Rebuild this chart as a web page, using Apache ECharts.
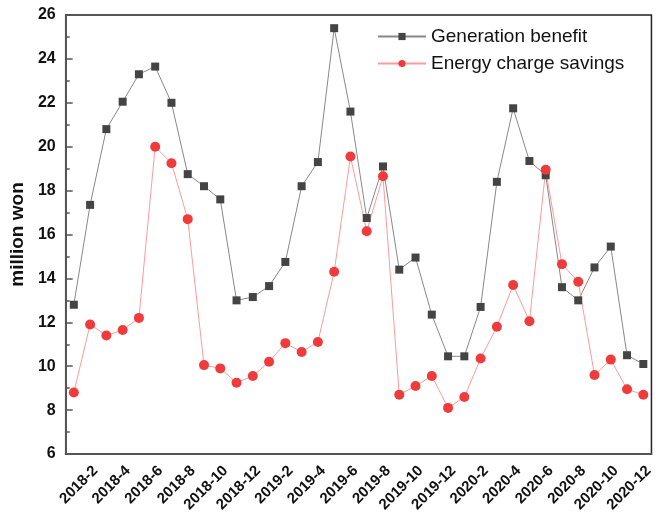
<!DOCTYPE html>
<html>
<head>
<meta charset="utf-8">
<script src="https://cdn.jsdelivr.net/npm/echarts@6/dist/echarts.min.js"></script>
<style>html,body{margin:0;padding:0;background:#fff}#c{width:656px;height:521px}</style>
</head>
<body>
<div id="c"></div>
<script>
const months = [];
for (let y = 2018; y <= 2020; y++) for (let m = 1; m <= 12; m++) months.push(y + '-' + m);
const generationBenefit = [12.8, 17.35, 20.8, 22.05, 23.3, 23.65, 22.0, 18.75, 18.2, 17.6, 13.0, 13.15,
  13.65, 14.75, 18.2, 19.3, 25.4, 21.6, 16.75, 19.1, 14.4, 14.95, 12.35, 10.45,
  10.45, 12.7, 18.4, 21.75, 19.35, 18.7, 13.6, 13.0, 14.5, 15.45, 10.5, 10.1];
const energyChargeSavings = [8.8, 11.9, 11.4, 11.65, 12.2, 20.0, 19.25, 16.7, 10.05, 9.9, 9.25, 9.55,
  10.2, 11.05, 10.65, 11.1, 14.3, 19.55, 16.15, 18.65, 8.7, 9.1, 9.55, 8.1,
  8.6, 10.35, 11.8, 13.7, 12.05, 18.95, 14.65, 13.85, 9.6, 10.3, 8.95, 8.7];
const seriesNames = ['Generation benefit', 'Energy charge savings'];

const chart = echarts.init(document.getElementById('c'));
chart.setOption({
  animation: false,
  textStyle: { fontFamily: 'Liberation Sans, Arial, sans-serif' },
  grid: { left: 63, right: 4, top: 15, bottom: 67, show: true, borderColor: '#222', borderWidth: 1.5, backgroundColor: 'transparent' },
  legend: {
    left: 372, top: 22, orient: 'vertical', itemGap: 8, itemWidth: 48, itemHeight: 9,
    textStyle: { fontSize: 19, color: '#111', fontFamily: 'Liberation Sans, Arial, sans-serif' },
    data: seriesNames
  },
  xAxis: {
    type: 'category', data: months, boundaryGap: true,
    axisLine: { lineStyle: { color: '#555', width: 2 } },
    axisTick: { show: false },
    axisLabel: {
      interval: (i) => i % 2 === 1, rotate: 45, fontSize: 15, fontWeight: 'bold', color: '#111', margin: 9,
      verticalAlign: 'top'
    }
  },
  yAxis: {
    type: 'value', min: 6, max: 26, interval: 2,
    name: 'million won', nameLocation: 'middle', nameGap: 33,
    nameTextStyle: { fontSize: 19, fontWeight: 'bold', color: '#111' },
    axisLine: { show: true, lineStyle: { color: '#555', width: 2 } },
    axisTick: { show: true, inside: true, length: 7, lineStyle: { color: '#555', width: 1.5 } },
    minorTick: { show: true, splitNumber: 2, length: 4, lineStyle: { color: '#555', width: 1.5 } },
    splitLine: { show: false },
    axisLabel: { fontSize: 16, fontWeight: 'bold', color: '#111', margin: 10 }
  },
  series: [
    {
      name: seriesNames[0], type: 'line', data: generationBenefit,
      symbol: 'rect', symbolSize: 8,
      itemStyle: { color: '#444' },
      lineStyle: { color: '#888', width: 1 }
    },
    {
      name: seriesNames[1], type: 'line', data: energyChargeSavings,
      symbol: 'circle', symbolSize: 10,
      itemStyle: { color: '#ef3b3b' },
      lineStyle: { color: '#ff9a9a', width: 1 }
    }
  ]
});
</script>
</body>
</html>
